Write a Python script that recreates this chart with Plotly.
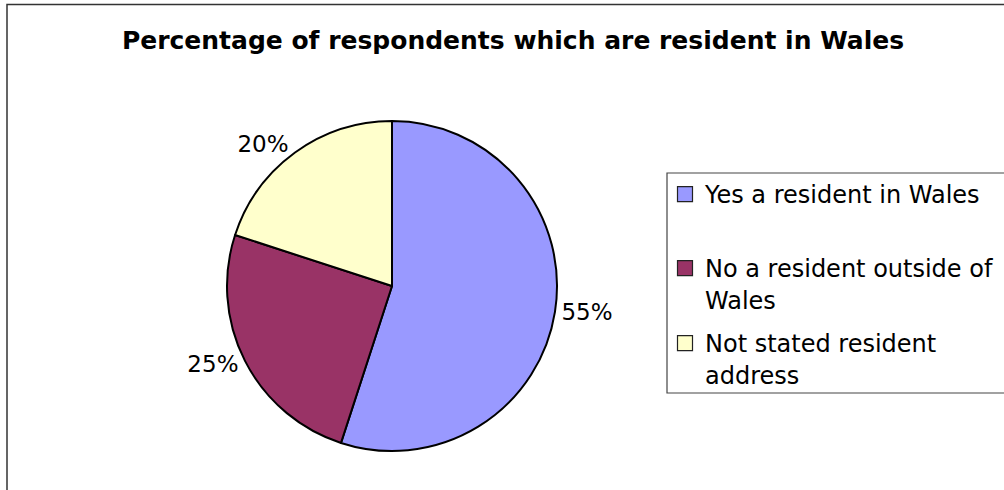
import plotly.graph_objects as go

# ---- data ----
categories = ["Yes a resident in Wales", "No a resident outside of Wales", "Not stated resident address"]
legend_labels = ["Yes a resident in Wales", "No a resident outside of<br>Wales", "Not stated resident<br>address"]
values = [55, 25, 20]
colors = ["#9999FF", "#993366", "#FFFFCC"]
title_text = "Percentage of respondents which are resident in Wales"

W, H = 1004, 490
FONT = "DejaVu Sans"

fig = go.Figure()

# pie: center (392, 286), radius ~165 px
cx, cy, r = 392, 286, 165
fig.add_trace(go.Pie(
    labels=categories,
    values=values,
    marker=dict(colors=colors, line=dict(color="black", width=2)),
    sort=False,
    direction="clockwise",
    rotation=0,
    textinfo="percent",
    textposition="outside",
    textfont=dict(family=FONT, size=23, color="black"),
    showlegend=False,
    hoverinfo="label+percent",
    domain=dict(x=[(cx - r) / W, (cx + r) / W], y=[1 - (cy + r) / H, 1 - (cy - r) / H]),
))

# legend entries (one legend per entry so spacing matches)
legend_tops = [172, 246, 321]
for i, (lab, col) in enumerate(zip(legend_labels, colors)):
    lname = "legend" if i == 0 else f"legend{i+1}"
    fig.add_trace(go.Scatter(
        x=[None], y=[None], mode="markers", name=lab,
        marker=dict(symbol="square", size=15, color=col, line=dict(color="#222", width=1.2)),
        legend=lname, showlegend=True, hoverinfo="skip",
    ))
    fig.update_layout(**{lname: dict(
        x=665 / W, xanchor="left", y=1 - legend_tops[i] / H, yanchor="top",
        bgcolor="rgba(0,0,0,0)", borderwidth=0, valign="top",
        font=dict(family=FONT, size=24, color="black"),
        itemclick=False, itemdoubleclick=False,
    )})

fig.update_layout(
    width=W, height=H,
    margin=dict(l=0, r=0, t=0, b=0, autoexpand=False),
    paper_bgcolor="white", plot_bgcolor="white",
    xaxis=dict(visible=False), yaxis=dict(visible=False),
    title=dict(text="<b>" + title_text + "</b>", x=513 / W, xanchor="center",
               y=1 - 40 / H, yanchor="middle", xref="paper", yref="paper",
               font=dict(family=FONT, size=25, color="black")),
    shapes=[
        # outer chart frame
        dict(type="rect", xref="paper", yref="paper", x0=7 / W, x1=1.02, y0=-0.05, y1=1 - 4.5 / H,
             line=dict(color="#333", width=1.5), fillcolor="rgba(0,0,0,0)", layer="below"),
        # legend frame
        dict(type="rect", xref="paper", yref="paper", x0=667 / W, x1=1.02, y0=1 - 393 / H, y1=1 - 173 / H,
             line=dict(color="#444", width=1.2), fillcolor="rgba(0,0,0,0)", layer="below"),
    ],
)

fig.write_html("out.html", config={"displayModeBar": False},
               post_script="document.body.style.margin='0px';")
